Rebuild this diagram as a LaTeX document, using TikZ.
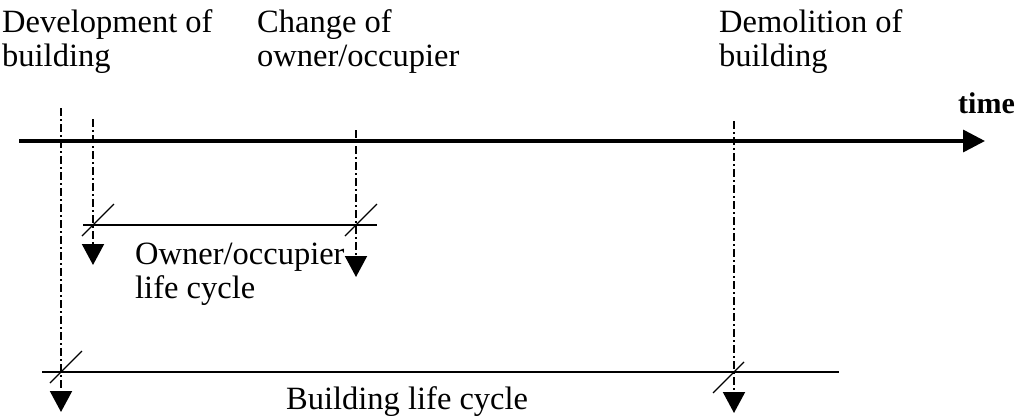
\documentclass[tikz,border=0pt]{standalone}
\usepackage{fontspec}
\setmainfont{Liberation Serif}
\usetikzlibrary{arrows.meta}
\begin{document}
\begin{tikzpicture}[x=1pt,y=-1pt,
  lbl/.style={anchor=base west,inner sep=0pt,align=left,font=\fontsize{32.5}{34}\selectfont},
  axis/.style={line width=3.5pt,-{Triangle[length=22pt,width=22pt]}},
  vline/.style={line width=2pt,dash pattern=on 8pt off 3pt on 2pt off 3pt,-{Triangle[length=21pt,width=22pt]}},
  span/.style={line width=1.3pt},
  tick/.style={line width=1.2pt}]
\useasboundingbox (0,0) rectangle (1021,418);
% labels (base anchor = baseline of last line)
\node[lbl] (dev) at (2,66) {Development of\\building};
\node[lbl] (chg) at (257,66) {Change of\\owner/occupier};
\node[lbl] (dem) at (719,66) {Demolition of\\building};
\node[lbl,font=\fontsize{30}{32}\selectfont\bfseries] (time) at (958,113) {time};
\node[lbl] (own) at (135,298) {Owner/occupier\\life cycle};
\node[lbl] (bld) at (286,409) {Building life cycle};
% time axis
\coordinate (t0) at (19,141);
\coordinate (t1) at (985,141);
\draw[axis] (t0) -- (t1);
% event lines
\coordinate (a0) at (61,108);  \coordinate (a1) at (61,412);
\coordinate (b0) at (93,119);  \coordinate (b1) at (93,265);
\coordinate (c0) at (356,130); \coordinate (c1) at (356,277);
\coordinate (d0) at (734,121); \coordinate (d1) at (734,413);
\draw[vline] (a0) -- (a1);
\draw[vline] (b0) -- (b1);
\draw[vline] (c0) -- (c1);
\draw[vline] (d0) -- (d1);
% life cycle spans
\coordinate (o0) at (83,225);  \coordinate (o1) at (377,225);
\coordinate (g0) at (42,372);  \coordinate (g1) at (839,372);
\draw[span] (o0) -- (o1);
\draw[span] (g0) -- (g1);
% ticks
\coordinate (xb) at (93,225);
\coordinate (xc) at (356,225);
\coordinate (xa) at (61,372);
\coordinate (xd) at (734,372);
\draw[tick] ([shift={(-11,11)}]xb) -- ([shift={(21,-21)}]xb);
\draw[tick] ([shift={(-11,11)}]xc) -- ([shift={(21,-21)}]xc);
\draw[tick] ([shift={(-11,11)}]xa) -- ([shift={(21,-21)}]xa);
\draw[tick] ([shift={(-21,21)}]xd) -- ([shift={(10,-10)}]xd);
\end{tikzpicture}
\end{document}
